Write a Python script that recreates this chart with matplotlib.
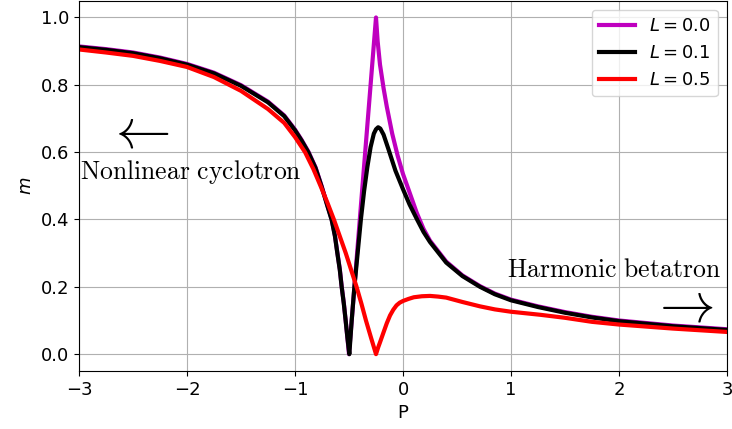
import numpy as np
import matplotlib
matplotlib.use("Agg")
import matplotlib.pyplot as plt

# magnetisation m versus P for three values of L
p_l00 = [-3.0, -2.75, -2.5, -2.25, -2.0, -1.75, -1.5, -1.25, -1.1, -1.0, -0.94, -0.877,
         -0.81, -0.753, -0.7, -0.66, -0.63, -0.608, -0.585, -0.568, -0.548, -0.531,
         -0.515, -0.5, -0.45, -0.4, -0.35, -0.3, -0.25, -0.235, -0.213, -0.18, -0.15,
         -0.1, -0.05, 0.0, 0.05, 0.127, 0.19, 0.25, 0.4, 0.55, 0.713, 0.85, 1.0, 1.25,
         1.5, 1.75, 2.0, 2.5, 3.0]
m_l00 = [0.914, 0.906, 0.896, 0.881, 0.862, 0.836, 0.799, 0.75, 0.709, 0.667, 0.637, 0.602,
         0.555, 0.499, 0.442, 0.4, 0.352, 0.302, 0.252, 0.202, 0.152, 0.1,
         0.05, 0.0, 0.2, 0.4, 0.6, 0.8, 1.0, 0.93, 0.86, 0.79, 0.735,
         0.655, 0.59, 0.535, 0.49, 0.42, 0.372, 0.337, 0.275, 0.234, 0.202, 0.18, 0.162, 0.142,
         0.125, 0.111, 0.1, 0.085, 0.074]

p_l01 = [-3.0, -2.75, -2.5, -2.25, -2.0, -1.75, -1.5, -1.25, -1.1, -1.0, -0.94, -0.877,
         -0.81, -0.753, -0.7, -0.66, -0.63, -0.608, -0.585, -0.568, -0.548, -0.531,
         -0.515, -0.497, -0.475, -0.45, -0.42, -0.39, -0.36, -0.33, -0.3, -0.27, -0.25,
         -0.23, -0.21, -0.18, -0.136, -0.07, 0.0, 0.06, 0.127, 0.19, 0.25, 0.4, 0.55,
         0.713, 0.85, 1.0, 1.25, 1.5, 1.75, 2.0, 2.5, 3.0]
m_l01 = [0.912, 0.904, 0.894, 0.879, 0.86, 0.834, 0.797, 0.748, 0.707, 0.665, 0.635, 0.6,
         0.553, 0.497, 0.44, 0.398, 0.35, 0.3, 0.25, 0.2, 0.15, 0.1,
         0.05, 0.0, 0.1, 0.2, 0.3, 0.4, 0.485, 0.556, 0.615, 0.655, 0.668,
         0.674, 0.67, 0.652, 0.61, 0.545, 0.49, 0.445, 0.402, 0.363, 0.333, 0.272, 0.232,
         0.2, 0.178, 0.16, 0.14, 0.123, 0.109, 0.098, 0.083, 0.072]

p_l05 = [-3.0, -2.75, -2.5, -2.25, -2.0, -1.75, -1.5, -1.25, -1.1, -1.0, -0.907, -0.83,
         -0.76, -0.7, -0.64, -0.585, -0.53, -0.48, -0.43, -0.385, -0.343, -0.297, -0.25,
         -0.23, -0.213, -0.18, -0.15, -0.12, -0.09, -0.06, -0.03, 0.0, 0.05, 0.1, 0.175,
         0.25, 0.325, 0.4, 0.55, 0.713, 0.85, 1.0, 1.27, 1.5, 1.75, 2.0, 2.5, 3.0]
m_l05 = [0.905, 0.896, 0.886, 0.871, 0.853, 0.823, 0.782, 0.728, 0.687, 0.645, 0.6, 0.55,
         0.497, 0.45, 0.4, 0.35, 0.3, 0.25, 0.2, 0.15, 0.1, 0.05, 0.0,
         0.02, 0.035, 0.065, 0.092, 0.115, 0.132, 0.145, 0.153, 0.158, 0.164, 0.169, 0.172,
         0.173, 0.171, 0.168, 0.155, 0.142, 0.133, 0.126, 0.117, 0.108, 0.096, 0.088, 0.076, 0.066]

series = [
    (p_l00, m_l00, "m", r"$L = 0.0$"),
    (p_l01, m_l01, "k", r"$L = 0.1$"),
    (p_l05, m_l05, "r", r"$L = 0.5$"),
]

fig = plt.figure(figsize=(7.32, 4.29), dpi=100)
ax = fig.add_axes([0.1079, 0.1352, 0.8853, 0.8633])

for p, m, c, lab in series:
    ax.plot(p, m, color=c, lw=3, label=lab)

ax.set_xlim(-3, 3)
ax.set_ylim(-0.05, 1.05)
ax.set_xlabel("P", fontsize=13)
ax.set_ylabel(r"$m$", fontsize=13)
ax.tick_params(labelsize=13)
ax.grid(True)
ax.legend(loc="upper right", fontsize=13)

# regime annotations
ax.text(-2.995, 0.519, r"$\mathrm{Nonlinear\ cyclotron}$", fontsize=18.5,
        math_fontfamily="cm", ha="left", va="baseline")
ax.text(-2.45, 0.658, r"$\leftarrow$", fontsize=40, math_fontfamily="cm",
        ha="center", va="center")
ax.text(0.966, 0.229, r"$\mathrm{Harmonic\ betatron}$", fontsize=18.5,
        math_fontfamily="cm", ha="left", va="baseline")
ax.text(2.58, 0.143, r"$\rightarrow$", fontsize=40, math_fontfamily="cm",
        ha="center", va="center")

fig.savefig("out.png", dpi=100)
